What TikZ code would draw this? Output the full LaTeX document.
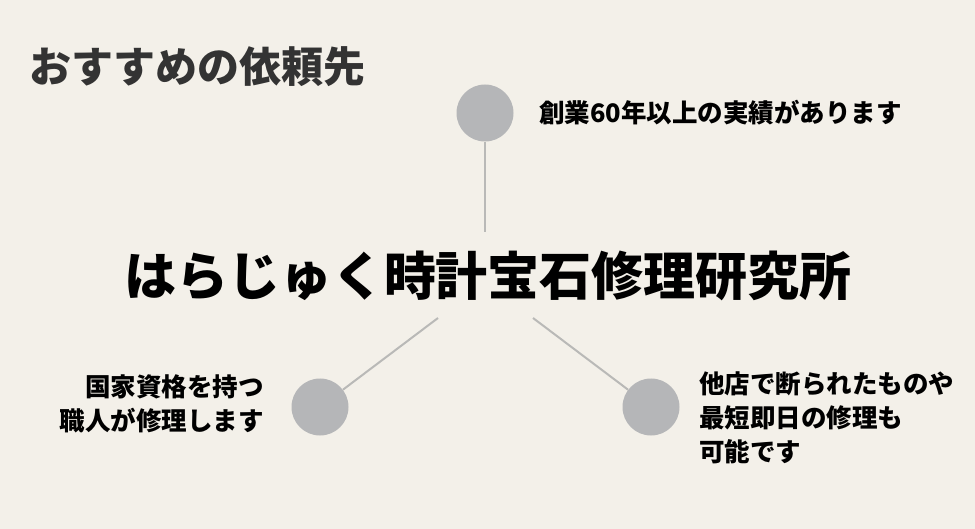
\documentclass[tikz,border=0pt]{standalone}
\usepackage{fontspec}
\setmainfont{Noto Sans CJK JP}
\definecolor{paperbg}{HTML}{F3F0E9}
\definecolor{dotgray}{HTML}{B5B6B8}
\definecolor{linegray}{HTML}{B9B9B7}
\definecolor{titlegray}{HTML}{333333}
\tikzset{
	dot/.style={circle, fill=dotgray, minimum size=57pt, inner sep=0pt},
	spoke/.style={linegray, line width=2pt},
	label text/.style={inner sep=0pt, text=black, font=\bfseries\fontsize{25.5}{34}\selectfont}
}
\begin{document}
\begin{tikzpicture}[x=1pt,y=-1pt]
	\fill [paperbg] (0,0) rectangle (975,529);
	\useasboundingbox (0,0) rectangle (975,529);
	\coordinate (TopEnd)     at (485,232);
	\coordinate (LeftStart)  at (438,318);
	\coordinate (RightStart) at (533,318);
	
	\node [anchor=west, inner sep=0pt, text=titlegray, font=\bfseries\fontsize{42}{42}\selectfont] (Title) at (29,67) {おすすめの依頼先};
	
	\node [inner sep=0pt, text=black, font=\bfseries\fontsize{52}{52}\selectfont] (Shop) at (488,276) {はらじゅく時計宝石修理研究所};
	
	\node [dot] (TopDot)   at (485,113) {};
	\node [dot] (LeftDot)  at (320,407) {};
	\node [dot] (RightDot) at (651,407) {};
	
	\draw [spoke] (TopDot) -- (TopEnd);
	\draw [spoke] (LeftStart) -- (LeftDot);
	\draw [spoke] (RightStart) -- (RightDot);
	
	\node [label text, anchor=west] (TopText) at (539,113) {創業60年以上の実績があります};
	\node [label text, anchor=east, align=right] (LeftText) at (264,404) {国家資格を持つ\\職人が修理します};
	\node [label text, anchor=west, align=left] (RightText) at (699,418) {他店で断られたものや\\最短即日の修理も\\可能です};
\end{tikzpicture}
\end{document}
